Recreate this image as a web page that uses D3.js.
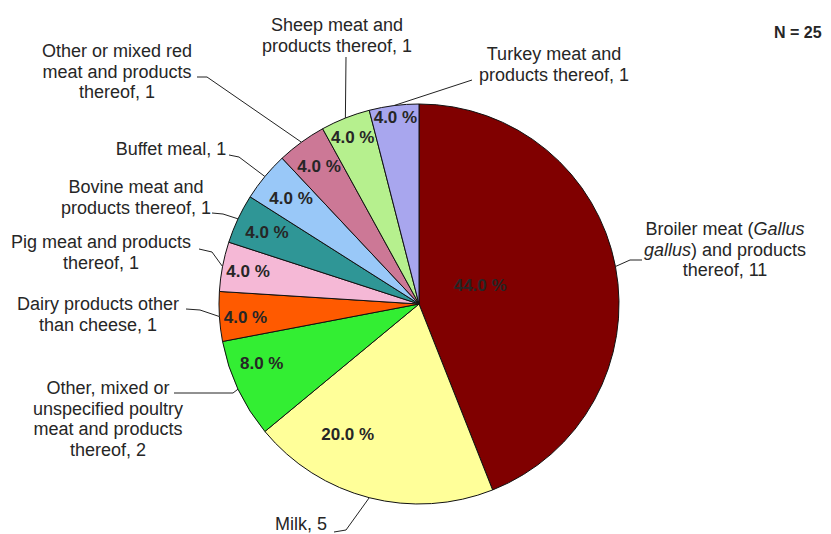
<!DOCTYPE html>
<html>
<head>
<meta charset="utf-8">
<script src="https://cdn.jsdelivr.net/npm/d3@7"></script>
<style>
body{margin:0;background:#fff}
text{font-family:"Liberation Sans",Arial,sans-serif;fill:#262626}
.lbl{font-size:18px}
.pct{font-size:17px;font-weight:bold}
.n{font-size:16px;font-weight:bold}
</style>
</head>
<body>
<svg id="chart"></svg>
<script>
// categories (line breaks as in the chart, *...* = italic)
var labelLines=[
    ["Broiler meat (*Gallus*","*gallus*) and products","thereof"],
    ["Milk"],
    ["Other, mixed or","unspecified poultry","meat and products","thereof"],
    ["Dairy products other","than cheese"],
    ["Pig meat and products","thereof"],
    ["Bovine meat and","products thereof"],
    ["Buffet meal"],
    ["Other or mixed red","meat and products","thereof"],
    ["Sheep meat and","products thereof"],
    ["Turkey meat and","products thereof"]
]
// number of outbreaks
var counts=[11,5,2,1,1,1,1,1,1,1]
var colors=["#800000","#ffff99","#33ee33","#ff5a00","#f5b8d6","#2f9696","#99c8f8","#cc7896","#b6f08e","#a8a6ee"]

var screen={width:831,height:534}
var center={x:419,y:304}
var radius=200

// where each outside label sits, and the bend of its leader line
var labelLayout=[
    {x:725,y:235,elbow:[630,260],tail:[642,260]},
    {x:301,y:530,elbow:[346,530],tail:[334,532]},
    {x:108,y:394,elbow:[233,393],tail:[174,393]},
    {x:98,y:310,elbow:[200,310],tail:[186,309]},
    {x:101,y:248,elbow:[212,252],tail:[199,249]},
    {x:136,y:193,elbow:[223,214],tail:[212,213]},
    {x:171,y:155,elbow:[239,157],tail:[229,155]},
    {x:117,y:57,elbow:[207,77],tail:[197,77]},
    {x:337,y:31,elbow:[346,57],tail:[346,57]},
    {x:554,y:60,elbow:[472,80],tail:[472,80]}
]
// percentage label: radius factor, fraction along the slice
var pctLayout=[[0.32,0.46],[0.74,0.7],[0.84,0.66],[0.87,0.45],[0.87,0.5],[0.84,0.5],[0.83,0.5],[0.85,0.5],[0.9,0.5],[0.94,0.5]]

var svg=d3.select("#chart")
    .attr("width",screen.width)
    .attr("height",screen.height)

var total=d3.sum(counts)
var pie=d3.pie().sort(null).value(function(d){return d})
var arcs=pie(counts)
var arc=d3.arc().innerRadius(0).outerRadius(radius)

var g=svg.append("g")
    .attr("transform","translate("+center.x+","+center.y+")")

g.selectAll("path.slice")
    .data(arcs)
    .enter()
    .append("path")
    .classed("slice",true)
    .attr("d",arc)
    .attr("fill",function(d,i){return colors[i]})
    .attr("stroke","#111")
    .attr("stroke-width",1)

var pointAt=function(a,r){return [center.x+r*Math.sin(a),center.y-r*Math.cos(a)]}

// percentage labels
svg.selectAll("text.pct")
    .data(arcs)
    .enter()
    .append("text")
    .classed("pct",true)
    .attr("text-anchor","middle")
    .attr("x",function(d,i){
        var a=d.startAngle+(d.endAngle-d.startAngle)*pctLayout[i][1]
        return pointAt(a,radius*pctLayout[i][0])[0]})
    .attr("y",function(d,i){
        var a=d.startAngle+(d.endAngle-d.startAngle)*pctLayout[i][1]
        return pointAt(a,radius*pctLayout[i][0])[1]+6})
    .text(function(d){return d3.format(".1f")(d.value/total*100)+" %"})

// leader lines
svg.selectAll("polyline.leader")
    .data(arcs)
    .enter()
    .append("polyline")
    .classed("leader",true)
    .attr("fill","none")
    .attr("stroke","#222")
    .attr("stroke-width",1)
    .attr("points",function(d,i){
        var p=pointAt((d.startAngle+d.endAngle)/2,radius)
        var L=labelLayout[i]
        return [p,L.elbow,L.tail].map(function(q){return q.join(",")}).join(" ")})

// outside labels
var lineH=20.5
labelLines.forEach(function(lines,i){
    var L=labelLayout[i]
    var t=svg.append("text")
        .classed("lbl",true)
        .attr("text-anchor","middle")
    lines.forEach(function(line,j){
        if(j==lines.length-1){line=line+", "+counts[i]}
        var parts=line.split("*")
        parts.forEach(function(part,k){
            if(part=="") return
            var ts=t.append("tspan").text(part)
            if(k%2==1){ts.attr("font-style","italic")}
            if(k==0||(k==1&&parts[0]=="")){ts.attr("x",L.x).attr("y",L.y+j*lineH)}
        })
    })
})

svg.append("text")
    .classed("n",true)
    .attr("x",774)
    .attr("y",38)
    .text("N = "+total)
</script>
</body>
</html>
